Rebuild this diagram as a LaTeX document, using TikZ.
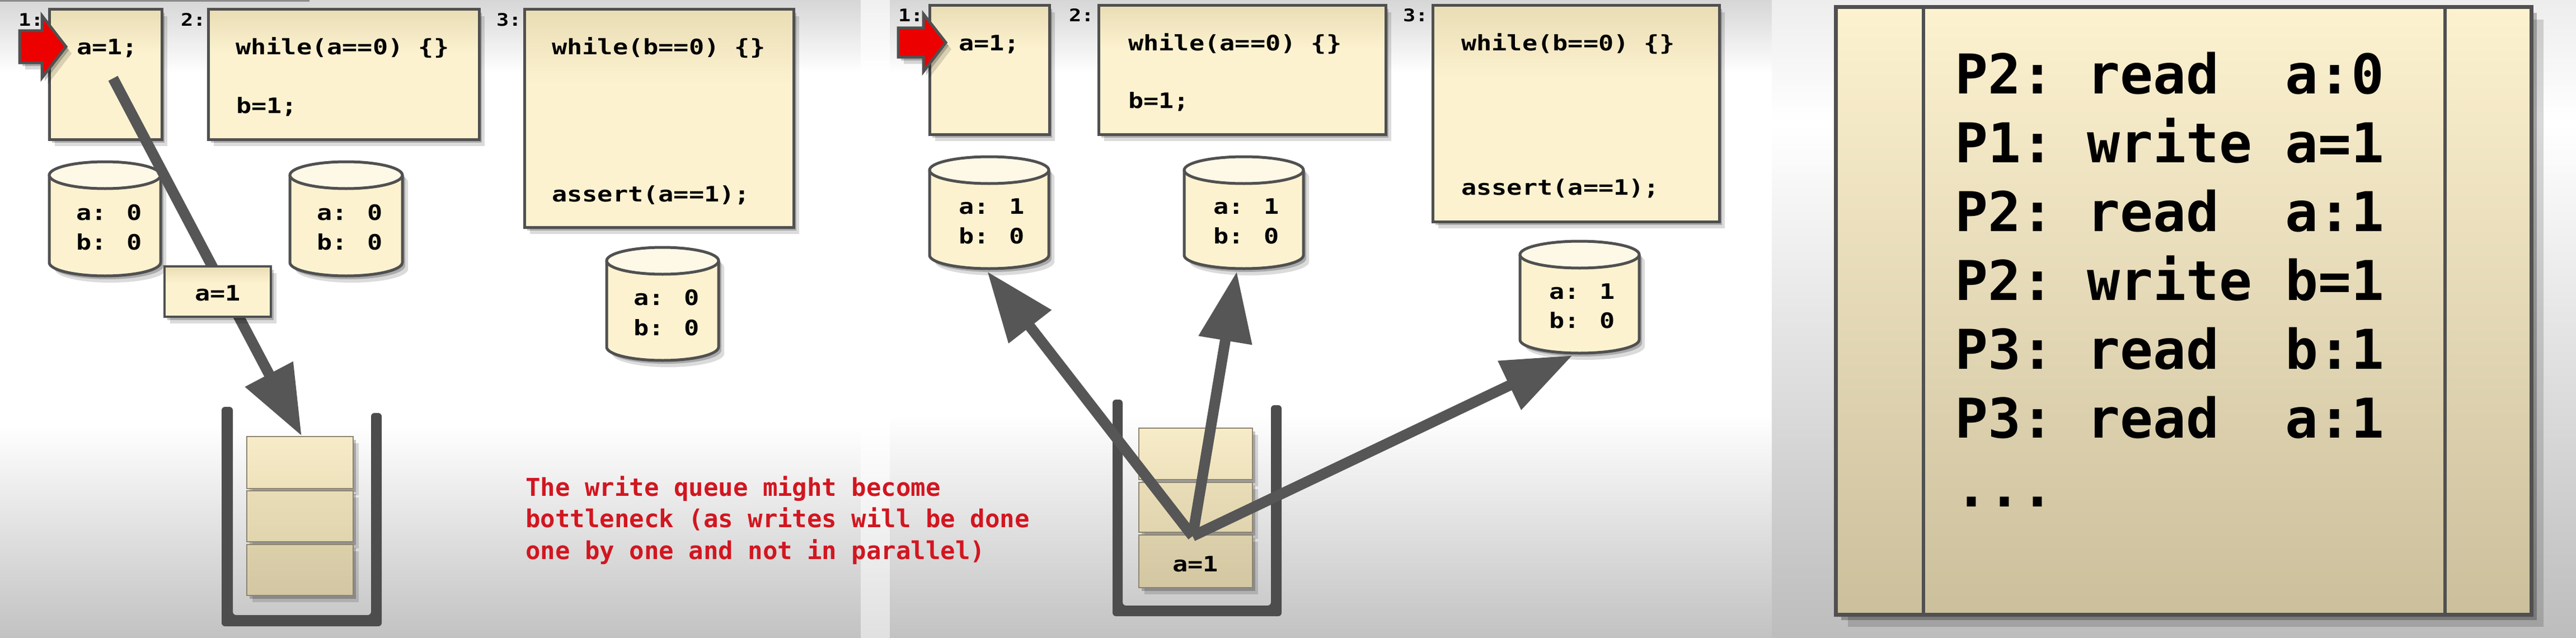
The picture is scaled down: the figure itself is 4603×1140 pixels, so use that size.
\documentclass[tikz,border=0pt]{standalone}
\usepackage{fontspec}
\setmainfont{DejaVu Sans}
\newfontfamily\codefont[FakeStretch=1.19]{DejaVu Sans Mono}
\newfontfamily\plainmono{DejaVu Sans Mono}
\usetikzlibrary{arrows.meta,shadows}

\definecolor{creamL}{RGB}{253,242,208}
\definecolor{creamD}{RGB}{233,221,181}
\definecolor{creamTop}{RGB}{254,248,231}
\definecolor{edge}{RGB}{80,80,80}
\definecolor{qgray}{RGB}{77,77,77}
\definecolor{agray}{RGB}{86,86,86}
\definecolor{redtxt}{RGB}{210,22,32}
\definecolor{arrowred}{RGB}{236,0,0}
\definecolor{slotedge}{RGB}{140,132,112}
\definecolor{bgTop}{RGB}{214,214,214}
\definecolor{bgBot}{RGB}{194,194,194}
\definecolor{sAt}{RGB}{247,236,200}\definecolor{sAb}{RGB}{238,226,188}
\definecolor{sBt}{RGB}{233,221,184}\definecolor{sBb}{RGB}{225,213,175}
\definecolor{sCt}{RGB}{220,208,171}\definecolor{sCb}{RGB}{211,199,163}
\definecolor{logTop}{RGB}{253,242,208}
\definecolor{logBot}{RGB}{203,191,156}

\pgfdeclareverticalshading{creambox}{100bp}{color(0bp)=(creamL); color(58bp)=(creamL); color(75bp)=(creamD); color(100bp)=(creamD)}

\tikzset{
  softshadow/.style={drop shadow={shadow xshift=5pt,shadow yshift=-6pt,opacity=.22,fill=black},
                     drop shadow={shadow xshift=10pt,shadow yshift=-12pt,opacity=.14,fill=black}},
  codebox/.style={rectangle, draw=edge, line width=5pt, shading=creambox, inner sep=0pt, outer sep=0pt, softshadow},
  codetxt/.style={font=\codefont\bfseries\fontsize{38}{44}\selectfont, inner sep=0pt, anchor=base west},
  lbltxt/.style={font=\codefont\bfseries\fontsize{31}{36}\selectfont, inner sep=0pt, anchor=base west},
  redtext/.style={font=\plainmono\bfseries\fontsize{44}{50}\selectfont, text=redtxt, inner sep=0pt, anchor=base west},
  logtxt/.style={font=\plainmono\bfseries\fontsize{98}{110}\selectfont, inner sep=0pt, anchor=base west},
  wire/.style={draw=agray, line width=19pt, -{Triangle[length=125pt,width=92pt]}},
  slotbox/.style={rectangle, draw=slotedge, line width=2pt, inner sep=0pt, outer sep=0pt, softshadow},
  redarrow/.style={fill=arrowred, draw=edge, line width=5pt, line join=miter, softshadow},
}

\newcommand\dbcyl[5]{%
  \pgfmathsetmacro\qcx{(#2+#3)/2}%
  \pgfmathsetmacro\qcr{(#3-#2)/2}%
  \pgfmathsetmacro\qct{#4+24}%
  \pgfmathsetmacro\qcb{#5-24}%
  \path[fill=creamL, softshadow] (#2,\qct) -- (#2,\qcb) arc[start angle=180, end angle=360, x radius=\qcr pt, y radius=24pt] -- (#3,\qct) arc[start angle=0, end angle=180, x radius=\qcr pt, y radius=24pt] -- cycle;
  \draw[draw=edge, line width=5pt] (#2,\qct) -- (#2,\qcb) arc[start angle=180, end angle=360, x radius=\qcr pt, y radius=24pt] -- (#3,\qct);
  \draw[draw=edge, line width=5pt, fill=creamTop] (\qcx,\qct) ellipse[x radius=\qcr pt, y radius=24pt];
  \coordinate (#1) at (\qcx,#5);
}

\begin{document}
\begin{tikzpicture}[x=1pt,y=-1pt]
\useasboundingbox (0,0) rectangle (4603,1140);

% ---------- backgrounds ----------
\path[top color=bgTop, bottom color=white] (0,0) rectangle (1538,130);
\fill[white] (0,130) rectangle (1538,760);
\path[top color=white, bottom color=bgBot] (0,760) rectangle (1538,1140);
\path[top color=black!6, bottom color=white] (1538,0) rectangle (1590,130);
\fill[white] (1538,130) rectangle (1590,760);
\path[top color=white, bottom color=black!12] (1538,760) rectangle (1590,1140);
\path[top color=bgTop, bottom color=white] (1590,0) rectangle (3166,130);
\fill[white] (1590,130) rectangle (3166,740);
\path[top color=white, bottom color=bgBot] (1590,740) rectangle (3166,1140);
\path[top color=black!7, bottom color=white] (3166,0) rectangle (4603,220);
\path[top color=white, bottom color=black!26] (3166,220) rectangle (4603,1140);
\draw[black!45, line width=3pt] (0,1.5) -- (553,1.5);

% ================= PANEL 1 =================
\node[lbltxt] (p1l1) at (33,47) {1:};
\node[lbltxt] (p1l2) at (323,47) {2:};
\node[lbltxt] (p1l3) at (887,47) {3:};
\node[codebox, minimum width=201pt, minimum height=232pt] (p1b1) at (188.5,133) {};
\node[codebox, minimum width=484pt, minimum height=232pt] (p1b2) at (614,133) {};
\node[codebox, minimum width=481pt, minimum height=389pt] (p1b3) at (1177.5,211.5) {};
\node[codetxt] (p1t1) at (137,97) {a=1;};
\node[codetxt] (p1t2) at (421,97) {while(a==0) \{\}};
\node[codetxt] (p1t3) at (422,202) {b=1;};
\node[codetxt] (p1t4) at (986,97) {while(b==0) \{\}};
\node[codetxt] (p1t5) at (986,360) {assert(a==1);};
\path[redarrow] (35,55) -- (75,55) -- (75,28) -- (118,83.5) -- (75,139) -- (75,112) -- (35,112) -- cycle;

\dbcyl{p1cA}{88}{287}{289}{493}
\dbcyl{p1cB}{518}{719}{289}{493}
\dbcyl{p1cC}{1084}{1284}{442}{644}
\node[codetxt] (p1cAa) at (136,393) {a: 0};
\node[codetxt] (p1cAb) at (136,446) {b: 0};
\node[codetxt] (p1cBa) at (566,393) {a: 0};
\node[codetxt] (p1cBb) at (566,446) {b: 0};
\node[codetxt] (p1cCa) at (1132,545) {a: 0};
\node[codetxt] (p1cCb) at (1132,599) {b: 0};

% queue 1
\fill[qgray, rounded corners=6pt] (396,727) -- (396,1119) -- (682,1119) -- (682,738) -- (663,738) -- (663,1099) -- (416,1099) -- (416,727) -- cycle;
\node[slotbox, top color=sAt, bottom color=sAb, minimum width=190pt, minimum height=93pt] (p1s1) at (536,826.5) {};
\node[slotbox, top color=sBt, bottom color=sBb, minimum width=190pt, minimum height=91pt] (p1s2) at (536,922.5) {};
\node[slotbox, top color=sCt, bottom color=sCb, minimum width=190pt, minimum height=91pt] (p1s3) at (536,1018.5) {};

\coordinate (p1src) at (202,140);
\coordinate (p1dst) at (539,779);
\draw[wire] (p1src) -- (p1dst);
\node[codebox, line width=3.5pt, minimum width=190pt, minimum height=90pt] (p1msg) at (389,521) {};
\node[codetxt, anchor=base] (p1msgt) at (389,537) {a=1};

\node[redtext] (r1) at (939,886) {The write queue might become};
\node[redtext] (r2) at (939,942) {bottleneck (as writes will be done};
\node[redtext] (r3) at (939,999) {one by one and not in parallel)};

% ================= PANEL 2 =================
\node[lbltxt] (p2l1) at (1605,39) {1:};
\node[lbltxt] (p2l2) at (1910,39) {2:};
\node[lbltxt] (p2l3) at (2507,39) {3:};
\node[codebox, minimum width=214pt, minimum height=230pt] (p2b1) at (1768,125) {};
\node[codebox, minimum width=513pt, minimum height=230pt] (p2b2) at (2219.5,125) {};
\node[codebox, minimum width=512pt, minimum height=386pt] (p2b3) at (2816,203) {};
\node[codetxt] (p2t1) at (1713,90) {a=1;};
\node[codetxt] (p2t2) at (2016,90) {while(a==0) \{\}};
\node[codetxt] (p2t3) at (2016,193) {b=1;};
\node[codetxt] (p2t4) at (2611,90) {while(b==0) \{\}};
\node[codetxt] (p2t5) at (2611,348) {assert(a==1);};
\path[redarrow] (1605,50) -- (1650,50) -- (1650,25) -- (1690,76) -- (1650,128) -- (1650,102) -- (1605,102) -- cycle;

\dbcyl{p2cA}{1661}{1874}{280}{480}
\dbcyl{p2cB}{2116}{2329}{280}{480}
\dbcyl{p2cC}{2716}{2929}{431}{631}
\node[codetxt] (p2cAa) at (1713,382) {a: 1};
\node[codetxt] (p2cAb) at (1713,435) {b: 0};
\node[codetxt] (p2cBa) at (2168,382) {a: 1};
\node[codetxt] (p2cBb) at (2168,435) {b: 0};
\node[codetxt] (p2cCa) at (2768,534) {a: 1};
\node[codetxt] (p2cCb) at (2768,586) {b: 0};

% queue 2
\fill[qgray, rounded corners=6pt] (1988,714) -- (1988,1101) -- (2290,1101) -- (2290,724) -- (2271,724) -- (2271,1082) -- (2006,1082) -- (2006,714) -- cycle;
\node[slotbox, top color=sAt, bottom color=sAb, minimum width=203pt, minimum height=92pt] (p2s1) at (2136.5,811) {};
\node[slotbox, top color=sBt, bottom color=sBb, minimum width=203pt, minimum height=89pt] (p2s2) at (2136.5,906.5) {};
\node[slotbox, top color=sCt, bottom color=sCb, minimum width=203pt, minimum height=94pt] (p2s3) at (2136.5,1003) {};
\node[codetxt, anchor=base] (p2s3t) at (2136,1021) {a=1};

\coordinate (p2src) at (2131,958);
\coordinate (p2tA) at (1764,485);
\coordinate (p2tB) at (2210,485);
\coordinate (p2tC) at (2810,635);
\draw[wire] (p2src) -- (p2tA);
\draw[wire] (p2src) -- (p2tB);
\draw[wire] (p2src) -- (p2tC);

% ================= PANEL 3 =================
\node[rectangle, draw=edge, line width=7pt, top color=logTop, bottom color=logBot,
      minimum width=1243pt, minimum height=1085pt, inner sep=0pt, outer sep=0pt,
      drop shadow={shadow xshift=10pt,shadow yshift=-10pt,opacity=.25,fill=black},
      drop shadow={shadow xshift=22pt,shadow yshift=-22pt,opacity=.15,fill=black}] (log) at (3901.5,555.5) {};
\draw[edge, line width=6pt] (3437,13) -- (3437,1098);
\draw[edge, line width=6pt] (4369,13) -- (4369,1098);
\node[logtxt] (g1) at (3493,167) {P2:\ read\ \ a:0};
\node[logtxt] (g2) at (3493,290) {P1:\ write\ a=1};
\node[logtxt] (g3) at (3493,413) {P2:\ read\ \ a:1};
\node[logtxt] (g4) at (3493,536) {P2:\ write\ b=1};
\node[logtxt] (g5) at (3493,659) {P3:\ read\ \ b:1};
\node[logtxt] (g6) at (3493,782) {P3:\ read\ \ a:1};
\node[logtxt] (g7) at (3493,905) {...};
\end{tikzpicture}
\end{document}
